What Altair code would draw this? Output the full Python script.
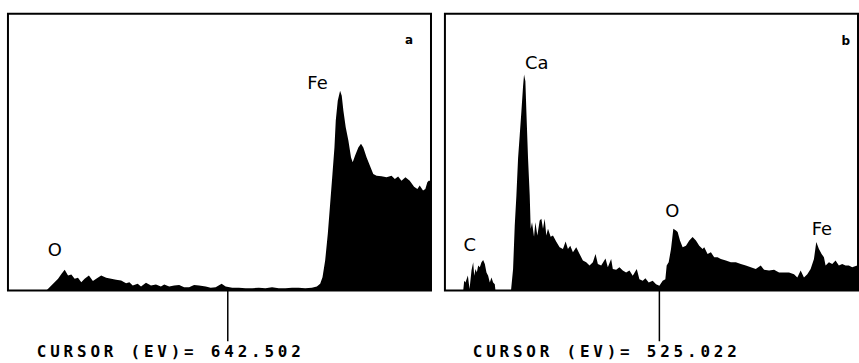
import altair as alt
import pandas as pd

# ---- panel a : spectrum (energy in eV, intensity in % of panel height) ----
left_ev = [510, 529.2, 533.2, 534.2, 537.2, 540.2, 542.2, 544.2, 546.2, 548.2, 550.2,
           552.2, 554.2, 556.2, 558.8, 561.2, 563.2, 566.2, 569.2, 572.2, 575.2, 578.2,
           581.2, 583.2, 585.2, 588.2, 590.2, 593.2, 596.2, 599.2, 602.2, 604.2, 607.2,
           610.2, 613.2, 616.2, 619.2, 622.2, 625.2, 629.2, 632.2, 635.2, 638.8, 641.2,
           645.2, 649.2, 653.2, 657.2, 661.2, 665.2, 669.2, 673.2, 677.2, 681.2, 685.2,
           689.2, 693.2, 696.2, 698.2, 699.6, 701.2, 702.8, 704.2, 705.6, 706.8, 707.6,
           708.8, 710.2, 711.2, 712.2, 713.6, 715.2, 716.8, 717.8, 719.2, 721.2, 722.8,
           724.2, 726.2, 728.2, 730.2, 732.2, 735.2, 738.2, 741.2, 743.2, 745.2, 747.2,
           749.6, 752.2, 754.8, 756.8, 758.2, 760.2, 761.6, 762.8, 763.6, 765]
left_counts = [0, 0, 0, 0.6, 2.4, 4.2, 6.0, 7.5, 5.4, 5.8, 4.2,
               4.6, 3.0, 4.2, 5.4, 3.4, 4.2, 5.4, 4.6, 4.2, 3.9, 3.6,
               2.6, 3.0, 1.8, 2.4, 1.4, 2.8, 1.8, 2.2, 1.4, 2.2, 1.4,
               1.8, 2.0, 1.2, 1.2, 2.0, 1.8, 1.4, 1.0, 1.2, 2.4, 1.4,
               1.0, 1.0, 0.8, 0.8, 1.0, 0.8, 1.2, 0.8, 0.8, 1.0, 1.0,
               0.8, 1.0, 1.4, 2.4, 4.8, 10.8, 20.5, 31.3, 42.1, 51.7, 61.4,
               68.6, 72.2, 70.4, 65.0, 59.0, 54.2, 48.1, 46.3, 48.7, 51.7, 53.0,
               51.7, 48.1, 45.1, 42.1, 41.5, 41.3, 40.9, 41.5, 40.3, 41.2, 39.7,
               40.9, 39.7, 37.5, 36.7, 37.9, 36.1, 36.7, 39.1, 39.7, 39.7]

# ---- panel b ----
right_ev = [267, 289, 290.2, 291.7, 294.6, 296.6, 299, 301, 302.2, 303.8, 305.4, 307, 309,
            311, 313, 315, 317, 319, 321, 323, 325, 327, 327.8, 346.5, 349, 351, 353, 355,
            357, 359, 361, 362.2, 363.8, 365, 367, 369, 370.2, 371.8, 374.2, 375.8, 378.2,
            381, 383, 385, 387, 389, 391, 394.2, 397, 401, 405, 409, 412.2, 415, 417.8,
            421, 425, 429, 433, 437, 441, 445, 448.2, 451, 455, 460.2, 463, 467, 469, 473,
            477, 481, 485, 489, 493, 497.8, 501, 505, 508.2, 512.2, 517, 521, 525, 529,
            532.2, 533.8, 536.2, 539, 541.8, 545, 547, 549.8, 553, 557, 561, 565, 569, 573,
            577, 579, 583, 587, 591, 595, 599, 605, 611, 617, 623, 629, 635, 641, 647, 651,
            657, 663, 669, 675, 681, 687, 691, 695, 699, 703, 707, 711, 713.8, 717, 720.2,
            723, 725, 729, 733, 737, 741, 745, 749, 753, 757, 763, 764]
right_counts = [0, 0, 3.5, 2.9, 5.4, 0.5, 7.3, 10.2, 5.3, 7.8, 6.5, 9.0, 8.4,
                10.2, 11, 9.6, 6.5, 5.3, 2.9, 4.7, 2.9, 2.3, 0, 0, 7.8, 23.5, 34.4, 47.8,
                56.2, 64.7, 73.8, 78.1, 75.6, 64.7, 47.8, 34.5, 22.3, 24.7, 19.4, 24.7, 19.9,
                25.3, 25.9, 22.3, 25.9, 19.9, 22.3, 19.4, 19.9, 17.6, 15.6, 15.0, 17.7, 15.0, 16.2,
                13.8, 15.6, 13.2, 10.8, 10.2, 9.0, 10.2, 13.2, 9.6, 9.0, 11.6, 8.4, 11.4, 7.8, 7.5,
                8.4, 7.2, 6.5, 7.2, 5.3, 7.8, 4.1, 3.5, 4.4, 2.9, 3.5, 2.3, 1.7, 3.5,
                4.1, 9.0, 10.2, 15.0, 22.3, 21.7, 21.1, 18.1, 15.6, 16.2, 18.1, 19.3, 18.1, 16.2,
                15.0, 15.6, 13.2, 13.8, 12.0, 12.0, 11.4, 10.8, 10.2, 10.2, 9.6, 9.0, 8.4, 7.8, 9.0, 7.5,
                7.2, 7.5, 6.5, 6.5, 6.5, 5.9, 4.7, 7.2, 4.7, 5.9, 7.8, 11.4, 17.5, 15.0, 13.2,
                12.0, 9.0, 10.2, 9.6, 10.8, 9.0, 9.6, 9.0, 9.0, 8.4, 9.0, 9.0]

left_labels = ["O", "Fe"]
left_label_ev = [538.2, 696.6]
left_label_y = [14.4, 74.7]
right_labels = ["C", "Ca", "O", "Fe"]
right_label_ev = [297, 377.4, 540.6, 720.6]
right_label_y = [16.0, 81.8, 28.4, 21.8]

panel_letters = ["a", "b"]
letter_ev = [751.8, 749.4]
letter_y = [90.6, 90.2]
cursor_ev = [642.502, 525.022]
cursor_text = ["CURSOR (EV)= 642.502", "CURSOR (EV)= 525.022"]

H = 278
CHAR_W = 13.45


def panel(ev, counts, domain, width, labels, lab_ev, lab_y, letter, let_ev, let_y,
          cursor, text, text_start):
    xs = alt.Scale(domain=domain, nice=False, zero=False)
    ys = alt.Scale(domain=[0, 100], nice=False, zero=True)
    df = pd.DataFrame({"ev": ev, "counts": counts})
    area = alt.Chart(df).mark_area(color="black", interpolate="linear", clip=True).encode(
        x=alt.X("ev:Q", scale=xs, axis=None),
        y=alt.Y("counts:Q", scale=ys, axis=None),
    )
    labs = alt.Chart(pd.DataFrame({"ev": lab_ev, "y": lab_y, "t": labels})).mark_text(
        font="DejaVu Sans", fontSize=18, color="black"
    ).encode(
        x=alt.X("ev:Q", scale=xs, axis=None),
        y=alt.Y("y:Q", scale=ys, axis=None),
        text="t:N",
    )
    let = alt.Chart(pd.DataFrame({"ev": [let_ev], "y": [let_y], "t": [letter]})).mark_text(
        font="DejaVu Sans", fontSize=12, fontWeight="bold", color="black"
    ).encode(
        x=alt.X("ev:Q", scale=xs, axis=None),
        y=alt.Y("y:Q", scale=ys, axis=None),
        text="t:N",
    )
    rule = alt.Chart(pd.DataFrame({"ev": [cursor]})).mark_rule(color="black", strokeWidth=1.5).encode(
        x=alt.X("ev:Q", scale=xs, axis=None),
        y=alt.value(H),
        y2=alt.value(H + 51),
    )
    n = len(text)
    chars = pd.DataFrame({"i": list(range(n)), "c": list(text)})
    txt = alt.Chart(chars).mark_text(
        font="DejaVu Sans Mono", fontSize=16, fontWeight="bold", align="left",
        baseline="middle", color="black"
    ).encode(
        x=alt.X("i:Q", scale=alt.Scale(domain=[0, n - 1],
                                       range=[text_start, text_start + (n - 1) * CHAR_W]),
                axis=None),
        y=alt.value(H + 62),
        text="c:N",
    )
    return alt.layer(area, labs, let, rule, txt).resolve_scale(x="independent").properties(
        width=width, height=H
    )


left = panel(left_ev, left_counts, [510, 765], 425, left_labels, left_label_ev, left_label_y,
             panel_letters[0], letter_ev[0], letter_y[0], cursor_ev[0], cursor_text[0], 29)
right = panel(right_ev, right_counts, [267, 764], 415, right_labels, right_label_ev, right_label_y,
              panel_letters[1], letter_ev[1], letter_y[1], cursor_ev[1], cursor_text[1], 28)

chart = alt.hconcat(left, right, spacing=12).properties(
    padding={"left": 7, "top": 12, "right": 0, "bottom": 0},
    background="white",
).configure_view(stroke="black", strokeWidth=2)

chart.save("out.html", embed_options={"renderer": "svg", "actions": False})
